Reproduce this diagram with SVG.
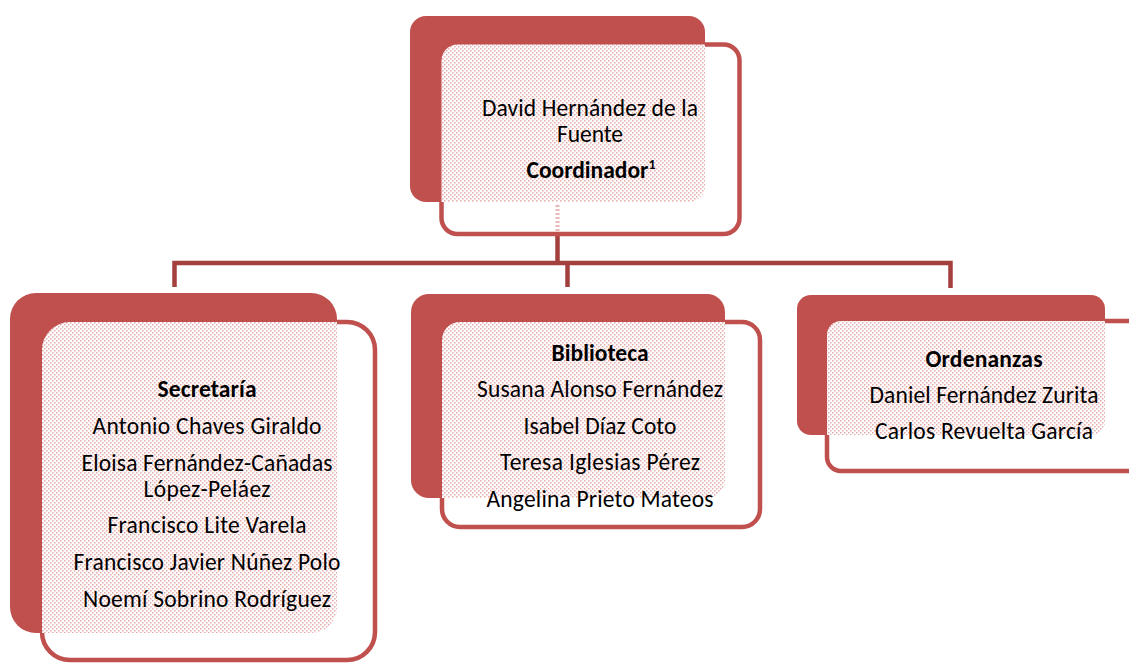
<svg xmlns="http://www.w3.org/2000/svg" width="1129" height="664" viewBox="0 0 1129 664">
<defs>
<style>
.back{fill:#C0504D;}
.front{fill:#FFFFFF;stroke:#C0504D;stroke-width:4.5;}
.conn{fill:none;stroke:#A3403E;stroke-width:4.5;stroke-linejoin:miter;}
text{font-family:Carlito,Calibri,Lato,"Liberation Sans",sans-serif;font-size:23.5px;fill:#000;text-anchor:middle;}
.b{font-weight:bold;}
</style>
<pattern id="dots" width="4" height="4" patternUnits="userSpaceOnUse">
<rect width="4" height="4" fill="#FFFFFF"/>
<rect x="0" y="0" width="1.5" height="1.5" fill="#E6AAA9"/>
<rect x="2" y="2" width="1.5" height="1.5" fill="#E6AAA9"/>
</pattern>
<clipPath id="cTop"><rect x="441.5" y="44.5" width="298" height="189.5" rx="16"/></clipPath>
<clipPath id="cSec"><rect x="42" y="322" width="333" height="338" rx="28"/></clipPath>
<clipPath id="cBib"><rect x="442" y="322" width="318" height="205" rx="18"/></clipPath>
<clipPath id="cOrd"><rect x="827" y="321" width="320" height="150" rx="14"/></clipPath>
</defs>

<g id="connectors">
<path class="conn" d="M557.5 236 V263 M174.5 287 V263 H950.5 V288 M567.5 263 V287"/>
</g>

<g id="node-coordinador">
<rect class="back" x="410" y="16" width="295" height="186" rx="16"/>
<rect class="front" x="441.5" y="44.5" width="298" height="189.5" rx="16"/>
<rect x="410" y="16" width="295" height="186" rx="16" fill="url(#dots)" clip-path="url(#cTop)"/>
<line x1="557.5" y1="205" x2="557.5" y2="232" stroke="#E8B8B7" stroke-width="4" stroke-dasharray="2 2"/>
<text x="590" y="116" textLength="216" lengthAdjust="spacing">David Hernández de la</text>
<text x="590" y="142" textLength="66" lengthAdjust="spacing">Fuente</text>
<text x="591" y="178"><tspan class="b">Coordinador</tspan><tspan class="b" font-size="14" dy="-9">1</tspan></text>
</g>

<g id="node-secretaria">
<rect class="back" x="10" y="293" width="327" height="340" rx="26"/>
<rect class="front" x="42" y="322" width="333" height="338" rx="28"/>
<rect x="10" y="293" width="327" height="340" rx="26" fill="url(#dots)" clip-path="url(#cSec)"/>
<text class="b" x="207" y="397" textLength="99" lengthAdjust="spacing">Secretaría</text>
<text x="207" y="434" textLength="229" lengthAdjust="spacing">Antonio Chaves Giraldo</text>
<text x="207" y="471" textLength="251" lengthAdjust="spacing">Eloisa Fernández-Cañadas</text>
<text x="207" y="497" textLength="127" lengthAdjust="spacing">López-Peláez</text>
<text x="207" y="533" textLength="199" lengthAdjust="spacing">Francisco Lite Varela</text>
<text x="207" y="570" textLength="267" lengthAdjust="spacing">Francisco Javier Núñez Polo</text>
<text x="207" y="607" textLength="248" lengthAdjust="spacing">Noemí Sobrino Rodríguez</text>
</g>

<g id="node-biblioteca">
<rect class="back" x="411" y="294" width="314" height="204" rx="18"/>
<rect class="front" x="442" y="322" width="318" height="205" rx="18"/>
<rect x="411" y="294" width="314" height="204" rx="18" fill="url(#dots)" clip-path="url(#cBib)"/>
<text class="b" x="600" y="361" textLength="97" lengthAdjust="spacing">Biblioteca</text>
<text x="600" y="397" textLength="246" lengthAdjust="spacing">Susana Alonso Fernández</text>
<text x="600" y="434" textLength="153" lengthAdjust="spacing">Isabel Díaz Coto</text>
<text x="600" y="470" textLength="200" lengthAdjust="spacing">Teresa Iglesias Pérez</text>
<text x="600" y="507" textLength="227" lengthAdjust="spacing">Angelina Prieto Mateos</text>
</g>

<g id="node-ordenanzas">
<rect class="back" x="797" y="295" width="308" height="140" rx="14"/>
<rect class="front" x="827" y="321" width="320" height="150" rx="14"/>
<rect x="797" y="295" width="308" height="140" rx="14" fill="url(#dots)" clip-path="url(#cOrd)"/>
<text class="b" x="984" y="367" textLength="117" lengthAdjust="spacing">Ordenanzas</text>
<text x="984" y="403" textLength="229" lengthAdjust="spacing">Daniel Fernández Zurita</text>
<text x="984" y="439" textLength="218" lengthAdjust="spacing">Carlos Revuelta García</text>
</g>
</svg>
